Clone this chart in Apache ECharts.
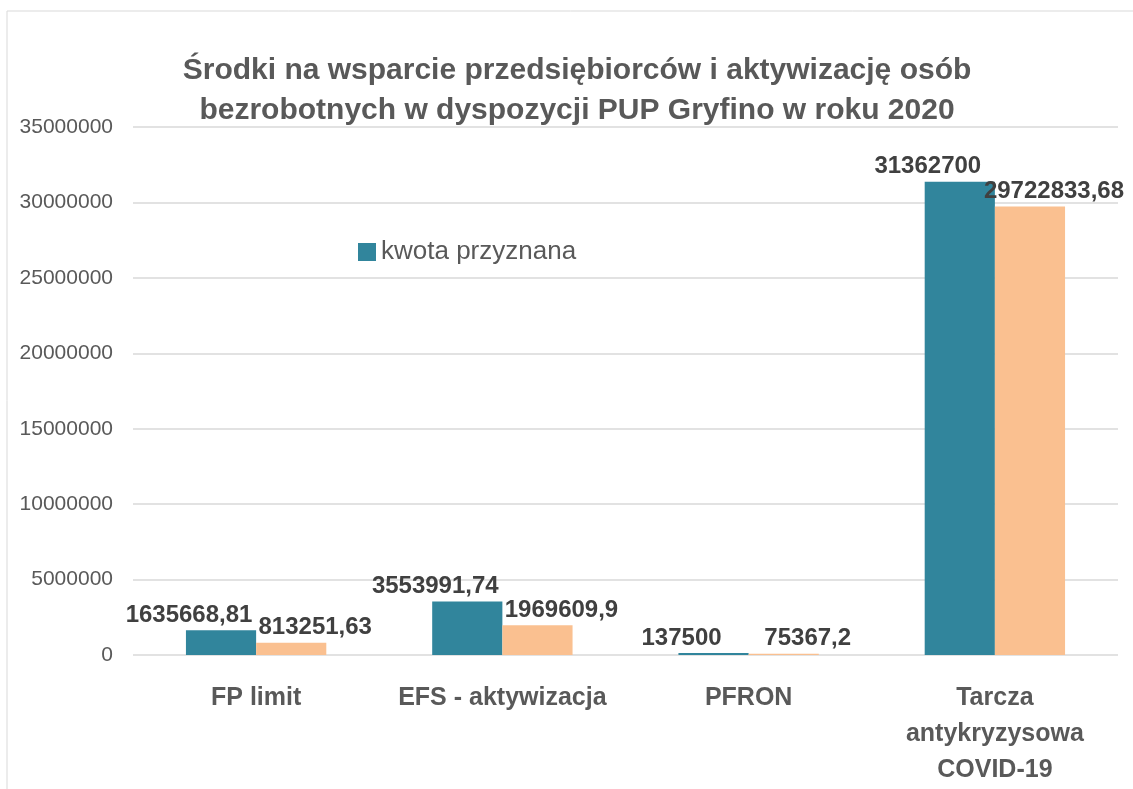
<!DOCTYPE html>
<html>
<head>
<meta charset="utf-8">
<script src="https://cdn.jsdelivr.net/npm/echarts@6/dist/echarts.min.js"></script>
<style>
html, body { margin: 0; padding: 0; background: #fff; }
#chart { width: 1133px; height: 789px; }
</style>
</head>
<body>
<div id="chart"></div>
<script>
// dane wykresu
var categories = ['FP limit', 'EFS - aktywizacja', 'PFRON', 'Tarcza\nantykryzysowa\nCOVID-19'];
var granted = [1635668.81, 3553991.74, 137500, 31362700];
var used = [813251.63, 1969609.9, 75367.2, 29722833.68];
var grantedName = 'kwota przyznana';
var usedName = 'kwota wykorzystana';
var yTicks = [0, 5000000, 10000000, 15000000, 20000000, 25000000, 30000000, 35000000];

function fmt(v) {
    return String(v).replace('.', ',');
}

var chart = echarts.init(document.getElementById('chart'));
var labelStyle = {
    show: true,
    position: 'top',
    distance: 3,
    fontFamily: 'Liberation Sans',
    fontWeight: 'bold',
    fontSize: 24,
    color: '#404040',
    formatter: function (p) { return fmt(p.value); }
};

chart.setOption({
    backgroundColor: '#fff',
    graphic: [{
        type: 'rect',
        shape: { x: 7, y: 11, width: 1140, height: 800 },
        style: { fill: 'none', stroke: '#d9d9d9', lineWidth: 1 },
        silent: true
    }],
    title: {
        text: 'Środki na wsparcie przedsiębiorców i aktywizację osób\nbezrobotnych w dyspozycji PUP Gryfino w roku 2020',
        left: 572,
        top: 46,
        textAlign: 'center',
        textStyle: {
            fontFamily: 'Liberation Sans',
            fontWeight: 'bold',
            fontSize: 30,
            color: '#595959',
            lineHeight: 40
        }
    },
    legend: {
        data: [grantedName],
        left: 353,
        top: 234,
        itemWidth: 18,
        itemHeight: 18,
        icon: 'rect',
        itemGap: 6,
        textStyle: { fontFamily: 'Liberation Sans', fontSize: 26, color: '#595959' }
    },
    grid: { left: 133, right: 15, top: 127, bottom: 134 },
    xAxis: {
        type: 'category',
        data: categories,
        axisLine: { show: false },
        axisTick: { show: false },
        axisLabel: {
            interval: 0,
            margin: 25,
            fontFamily: 'Liberation Sans',
            fontWeight: 'bold',
            fontSize: 25,
            lineHeight: 36,
            color: '#595959',
            verticalAlign: 'top'
        }
    },
    yAxis: {
        type: 'value',
        min: yTicks[0],
        max: yTicks[yTicks.length - 1],
        interval: 5000000,
        axisLine: { show: false },
        axisTick: { show: false },
        splitLine: { lineStyle: { color: '#d9d9d9', width: 1.5 } },
        axisLabel: {
            margin: 20,
            fontFamily: 'Liberation Sans',
            fontSize: 21,
            color: '#595959',
            formatter: function (v) { return String(v); }
        }
    },
    series: [{
        name: grantedName,
        type: 'bar',
        data: granted,
        barGap: '0%',
        barCategoryGap: '43%',
        itemStyle: { color: '#31859c' },
        label: Object.assign({}, labelStyle, { offset: [-32, 0] })
    }, {
        name: usedName,
        type: 'bar',
        data: used,
        itemStyle: { color: '#fac090' },
        label: Object.assign({}, labelStyle, { offset: [24, 0] })
    }]
});
</script>
</body>
</html>
